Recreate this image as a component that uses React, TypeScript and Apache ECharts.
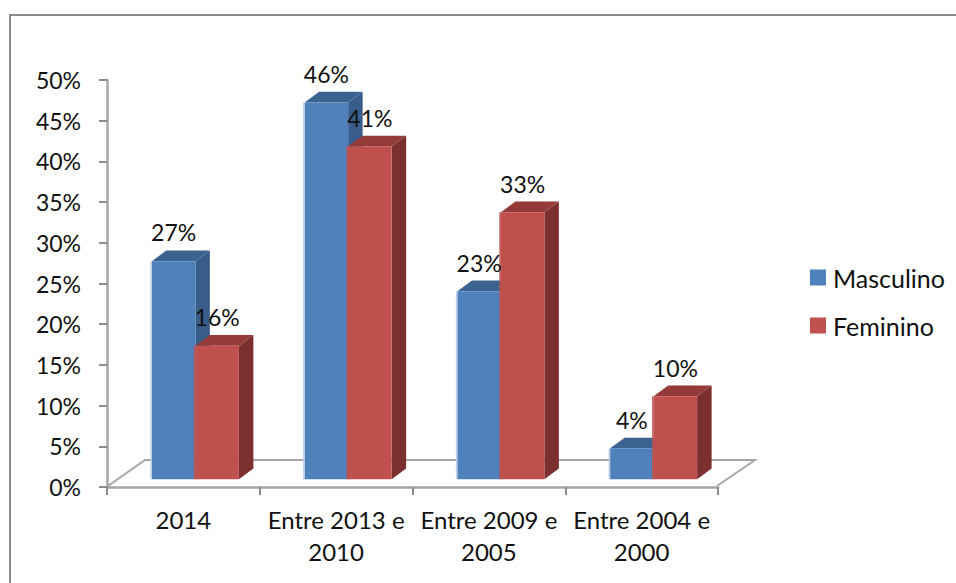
import React, { useEffect, useRef } from "react";
import * as echarts from "echarts";

const categories = ["2014", "Entre 2013 e\n2010", "Entre 2009 e\n2005", "Entre 2004 e\n2000"];
const masculino = [26.8, 46.3, 23.1, 3.8];
const feminino = [16.4, 40.9, 32.8, 10.2];
const tickStep = 5;
const axisMax = 50;

const FONT = "Lato";
const BAR_W = 43.5;
const SHIFT_X = 12;
const SHIFT_Y = -7.7;
const DEPTH_X = 14.5;
const DEPTH_Y = -10.7;

function barRenderer(side: number, front: string, top: string, right: string, edge: string) {
  return (params: any, api: any) => {
    const cat = api.value(0);
    const val = api.value(1);
    const t = api.coord([cat, val]);
    const b = api.coord([cat, 0]);
    const x0 = t[0] + SHIFT_X + (side < 0 ? -BAR_W : 0);
    const x1 = x0 + BAR_W;
    const y0 = t[1] + SHIFT_Y;
    const y1 = b[1] + SHIFT_Y;
    return {
      type: "group",
      children: [
        {
          type: "polygon",
          shape: { points: [[x1, y0], [x1 + DEPTH_X, y0 + DEPTH_Y], [x1 + DEPTH_X, y1 + DEPTH_Y], [x1, y1]] },
          style: { fill: right },
        },
        {
          type: "polygon",
          shape: { points: [[x0, y0], [x0 + DEPTH_X, y0 + DEPTH_Y], [x1 + DEPTH_X, y0 + DEPTH_Y], [x1, y0]] },
          style: { fill: top },
        },
        { type: "rect", shape: { x: x0, y: y0, width: BAR_W, height: y1 - y0 }, style: { fill: front } },
        { type: "rect", shape: { x: x0 - 1.5, y: y0, width: 1.5, height: y1 - y0 }, style: { fill: edge } },
        {
          type: "text",
          z2: 100,
          style: {
            text: `${Math.round(val)}%`,
            x: x0 + BAR_W / 2,
            y: y0 + DEPTH_Y - 18,
            align: "center",
            verticalAlign: "middle",
            font: `23px ${FONT}`,
            fill: "#111111",
          },
        },
      ],
    };
  };
}

export default function App() {
  const ref = useRef<HTMLDivElement>(null);
  useEffect(() => {
    document.body.style.margin = "0";
    const chart = echarts.init(ref.current!, undefined, { renderer: "svg" });
    const gray = "#a6a6a6";
    chart.setOption({
      animation: false,
      backgroundColor: "#ffffff",
      textStyle: { fontFamily: FONT },
      grid: { left: 107, right: 238, top: 80, bottom: 96 },
      legend: {
        orient: "vertical",
        left: 810,
        top: 265,
        padding: 0,
        itemWidth: 16,
        itemHeight: 16,
        itemGap: 23,
        icon: "rect",
        textStyle: { fontFamily: FONT, fontSize: 25, color: "#111111", padding: [0, 0, 0, 2] },
        data: ["Masculino", "Feminino"],
      },
      xAxis: {
        type: "category",
        data: categories,
        axisLine: { lineStyle: { color: gray, width: 2.5 } },
        axisTick: { show: true, length: 8, alignWithLabel: false, lineStyle: { color: "#8c8c8c", width: 2 } },
        axisLabel: { fontFamily: FONT, fontSize: 24, color: "#111111", margin: 16, lineHeight: 32, interval: 0 },
        splitLine: { show: false },
      },
      yAxis: {
        type: "value",
        min: 0,
        max: axisMax,
        interval: tickStep,
        axisLine: { show: true, lineStyle: { color: gray, width: 2.5 } },
        axisTick: { show: true, length: 8, lineStyle: { color: "#8c8c8c", width: 2 } },
        axisLabel: { formatter: "{value}%", fontFamily: FONT, fontSize: 23, color: "#111111", margin: 26 },
        splitLine: { show: false },
      },
      graphic: [
        {
          type: "polyline",
          z: 0,
          shape: { points: [[10, 583], [10, 15], [956, 15]] },
          style: { stroke: "#8c8c8c", lineWidth: 2, fill: "none" },
        },
        {
          type: "polyline",
          z: 0,
          shape: { points: [[108, 486], [145, 460], [755, 460], [717, 486]] },
          style: { stroke: gray, lineWidth: 2, fill: "none" },
        },
      ],
      series: [
        {
          name: "Masculino",
          type: "custom",
          itemStyle: { color: "#4f81bd" },
          encode: { x: 0, y: 1 },
          data: masculino.map((v, i) => [i, v]),
          renderItem: barRenderer(-1, "#4f81bd", "#3c6290", "#385d8a", "#b9cde5"),
        },
        {
          name: "Feminino",
          type: "custom",
          itemStyle: { color: "#c0504d" },
          encode: { x: 0, y: 1 },
          data: feminino.map((v, i) => [i, v]),
          renderItem: barRenderer(1, "#c0504d", "#943a38", "#7b2f2e", "#c0504d"),
        },
      ],
    });
    return () => chart.dispose();
  }, []);
  return <div ref={ref} style={{ width: 956, height: 583, overflow: "hidden" }} />;
}
